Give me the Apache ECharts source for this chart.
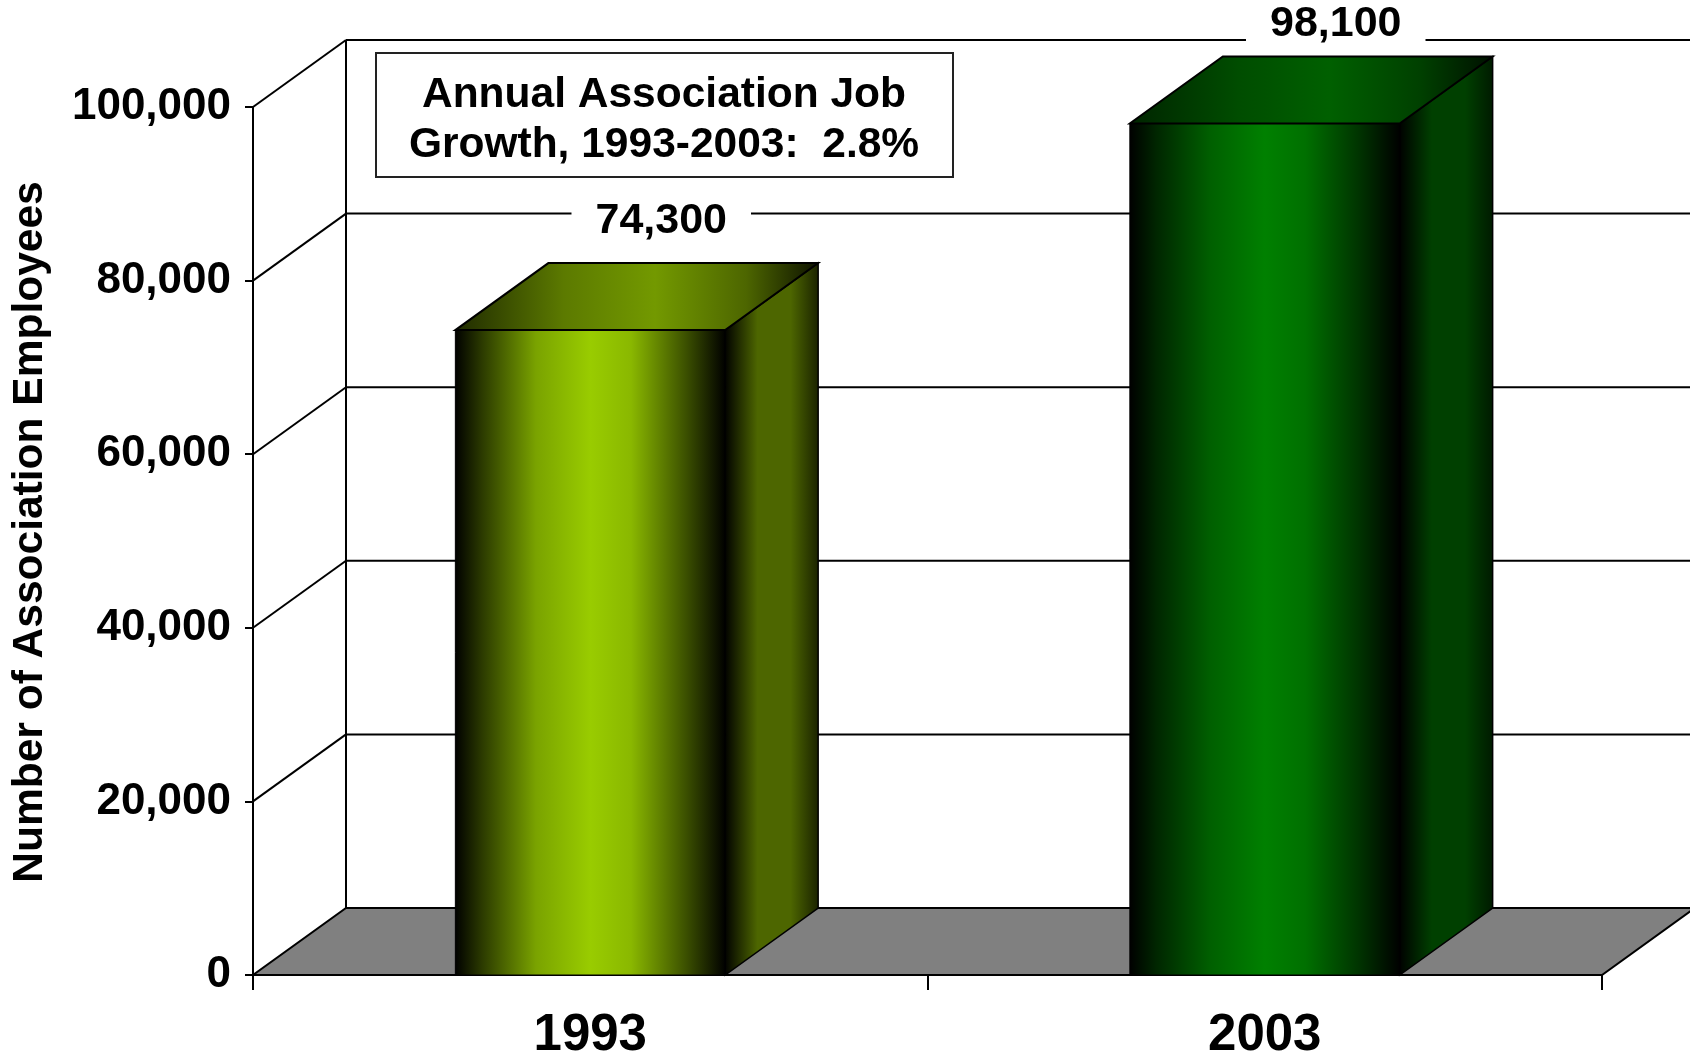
<!DOCTYPE html>
<html>
<head>
<meta charset="utf-8">
<script src="https://cdn.jsdelivr.net/npm/echarts@6/dist/echarts.min.js"></script>
<style>
  html, body { margin: 0; padding: 0; background: #fff; }
  #chart { width: 1690px; height: 1056px; }
</style>
</head>
<body>
<div id="chart"></div>
<script>
// Data
const years = ['1993', '2003'];
const employees = [74300, 98100];
const yTicks = [0, 20000, 40000, 60000, 80000, 100000];
const noteLines = ['Annual Association Job', 'Growth, 1993-2003:  2.8%'];

const FONT = '"Liberation Sans", Arial, Helvetica, sans-serif';
// Depth offset of the pseudo-3D walls and columns (pixels)
const DX = 93, DY = -67;

// Shading for each column: front, side and top faces
const palettes = [
  {
    front: ['#000000', '#2b3a00', '#7aa300', '#99cc00', '#8ab800', '#3d5200', '#000000'],
    side:  ['#000000', '#4d6600', '#4d6600', '#1a2200'],
    top:   ['#1f2a00', '#5c7a00', '#739900', '#4d6600', '#0d1100']
  },
  {
    front: ['#000000', '#002600', '#006000', '#008000', '#007000', '#003300', '#000000'],
    side:  ['#000000', '#004000', '#004000', '#001a00'],
    top:   ['#002400', '#004d00', '#006000', '#004000', '#001000']
  }
];
const frontStops = [0, 0.1, 0.3, 0.5, 0.65, 0.85, 1];
const sideStops = [0, 0.35, 0.7, 1];
const topStops = [0, 0.3, 0.55, 0.8, 1];

function grad(colors, stops) {
  return new echarts.graphic.LinearGradient(0, 0, 1, 0,
    colors.map((c, k) => ({ offset: stops[k], color: c })));
}

const chart = echarts.init(document.getElementById('chart'), null, { renderer: 'canvas' });

const option = {
  backgroundColor: '#ffffff',
  animation: false,
  grid: { left: 253, right: 88, top: 107, bottom: 81, containLabel: false, outerBoundsMode: 'none' },
  xAxis: {
    type: 'category',
    data: years,
    boundaryGap: true,
    axisLine: { show: true, lineStyle: { color: '#000', width: 2 } },
    axisTick: { show: true, length: 15, interval: 0, lineStyle: { color: '#000', width: 2 } },
    axisLabel: { fontFamily: FONT, fontWeight: 'bold', fontSize: 51, color: '#000', margin: 35 },
    splitLine: { show: false }
  },
  yAxis: {
    type: 'value',
    min: 0,
    max: 100000,
    interval: 20000,
    name: 'Number of Association Employees',
    nameLocation: 'middle',
    nameRotate: 90,
    nameGap: 201,
    nameTextStyle: { fontFamily: FONT, fontWeight: 'bold', fontSize: 42.5, color: '#000', padding: [0, 0, 0, 18] },
    axisLine: { show: true, lineStyle: { color: '#000', width: 2 } },
    axisTick: { show: true, length: 8, lineStyle: { color: '#000', width: 2 } },
    axisLabel: {
      fontFamily: FONT, fontWeight: 'bold', fontSize: 44, color: '#000', margin: 22,
      padding: [7, 0, 0, 0],
      formatter: v => v.toLocaleString('en-US')
    },
    splitLine: { show: false }
  },
  graphic: [
    {
      type: 'group',
      children: [
        {
          type: 'rect',
          shape: { x: 376, y: 53, width: 577, height: 124 },
          style: { fill: '#ffffff', stroke: '#222', lineWidth: 2 }
        },
        {
          type: 'text', x: 664, y: 95,
          style: { text: noteLines[0], font: `bold 42.5px ${FONT}`, fill: '#000', align: 'center', verticalAlign: 'middle' }
        },
        {
          type: 'text', x: 664, y: 145,
          style: { text: noteLines[1], font: `bold 42.5px ${FONT}`, fill: '#000', align: 'center', verticalAlign: 'middle' }
        }
      ]
    }
  ],
  series: [
    {
      // Floor, left wall and back wall with their gridlines
      type: 'custom',
      clip: false,
      z: 1,
      silent: true,
      data: yTicks.map(v => [0, v]),
      encode: { x: 0, y: 1 },
      renderItem(params, api) {
        const cs = params.coordSys;
        const x0 = cs.x, x1 = cs.x + cs.width;
        const v = api.value(1);
        const y = api.coord([0, v])[1];
        const lineStyle = { stroke: '#000', lineWidth: 2 };
        const children = [];
        if (v === 0) {
          const yTop = api.coord([0, yTicks[yTicks.length - 1]])[1];
          children.push({
            type: 'polygon',
            shape: { points: [[x0, y], [x1, y], [x1 + DX, y + DY], [x0 + DX, y + DY]] },
            style: { fill: '#808080', stroke: '#000', lineWidth: 2 }
          });
          children.push({
            type: 'line',
            shape: { x1: x0 + DX, y1: y + DY, x2: x0 + DX, y2: yTop + DY },
            style: lineStyle
          });
        } else {
          children.push({
            type: 'line',
            shape: { x1: x0, y1: y, x2: x0 + DX, y2: y + DY },
            style: lineStyle
          });
          children.push({
            type: 'line',
            shape: { x1: x0 + DX, y1: y + DY, x2: x1 + DX, y2: y + DY },
            style: lineStyle
          });
        }
        return { type: 'group', children };
      }
    },
    {
      // 3D columns with value labels
      type: 'custom',
      clip: false,
      z: 3,
      data: employees.map((v, i) => [i, v]),
      encode: { x: 0, y: 1 },
      renderItem(params, api) {
        const i = api.value(0), v = api.value(1);
        const top = api.coord([i, v]);
        const base = api.coord([i, 0]);
        const w = api.size([1, 0])[0] * 0.4;
        const xl = top[0] - w / 2, xr = top[0] + w / 2;
        const yt = top[1], yb = base[1];
        const pal = palettes[i];
        const labelY = Math.max(yt + DY - 42, 24);
        return {
          type: 'group',
          children: [
            {
              type: 'polygon',
              shape: { points: [[xr, yt], [xr + DX, yt + DY], [xr + DX, yb + DY], [xr, yb]] },
              style: { fill: grad(pal.side, sideStops), stroke: '#000', lineWidth: 1.5 }
            },
            {
              type: 'rect',
              shape: { x: xl, y: yt, width: w, height: yb - yt },
              style: { fill: grad(pal.front, frontStops), stroke: '#000', lineWidth: 1 }
            },
            {
              type: 'polygon',
              shape: { points: [[xl, yt], [xr, yt], [xr + DX, yt + DY], [xl + DX, yt + DY]] },
              style: { fill: grad(pal.top, topStops), stroke: '#000', lineWidth: 2 }
            },
            {
              type: 'text',
              x: top[0] + 71,
              y: labelY,
              style: {
                text: v.toLocaleString('en-US'),
                font: `bold 43px ${FONT}`,
                fill: '#000',
                align: 'center',
                verticalAlign: 'middle',
                backgroundColor: '#ffffff',
                padding: [8, 24]
              }
            }
          ]
        };
      }
    }
  ]
};

chart.setOption(option);
</script>
</body>
</html>
